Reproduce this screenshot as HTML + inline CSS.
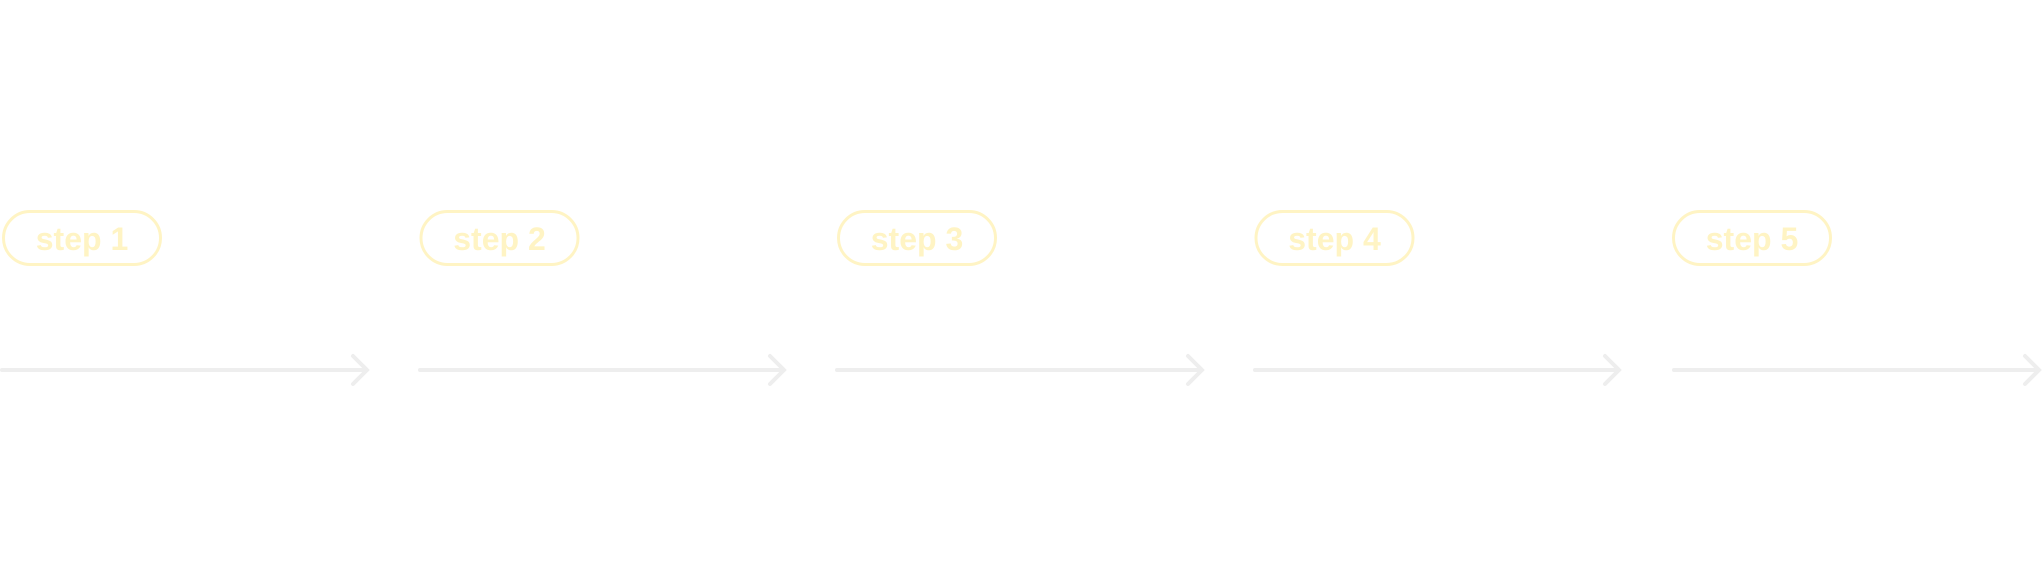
<!DOCTYPE html>
<html><head><style>body{margin:0;background:#fff}</style></head><body>
<svg width="2042" height="570" xmlns="http://www.w3.org/2000/svg">
<g stroke="#fff4c4" stroke-width="3" fill="none">
<rect x="3.5" y="211.5" width="157" height="53" rx="26.5"/>
<rect x="421" y="211.5" width="157" height="53" rx="26.5"/>
<rect x="838.5" y="211.5" width="157" height="53" rx="26.5"/>
<rect x="1256" y="211.5" width="157" height="53" rx="26.5"/>
<rect x="1673.5" y="211.5" width="157" height="53" rx="26.5"/>
</g>
<g font-family="Liberation Sans, sans-serif" font-weight="bold" font-size="32" fill="#fff4c4" text-anchor="middle">
<text x="82" y="250">step 1</text>
<text x="499.5" y="250">step 2</text>
<text x="917" y="250">step 3</text>
<text x="1334.5" y="250">step 4</text>
<text x="1752" y="250">step 5</text>
</g>
<g stroke="#eeeeee" stroke-width="4" fill="none" stroke-linecap="round">
<path d="M2 370H366M353 356L367 370L353 384"/>
<path d="M420 370H783M770 356L784 370L770 384"/>
<path d="M837 370H1201M1188 356L1202 370L1188 384"/>
<path d="M1255 370H1618M1605 356L1619 370L1605 384"/>
<path d="M1674 370H2038M2025 356L2039 370L2025 384"/>
</g>
</svg>
</body></html>
